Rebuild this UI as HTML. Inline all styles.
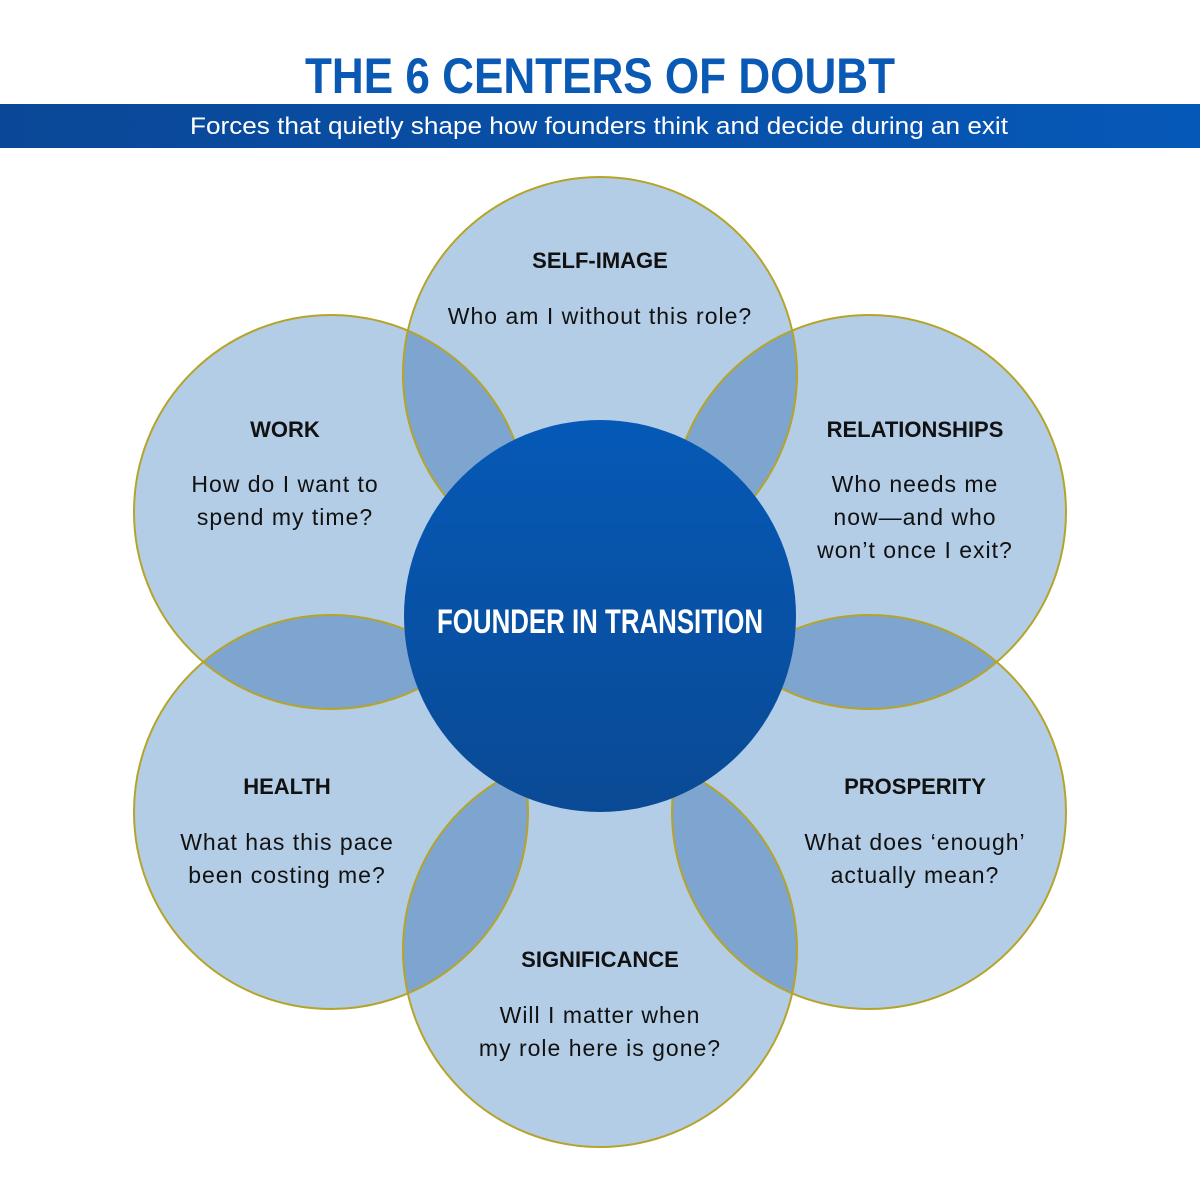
<!DOCTYPE html>
<html><head><meta charset="utf-8"><style>
html,body{margin:0;padding:0;background:#fff;width:1200px;height:1200px;overflow:hidden}
</style></head><body>
<svg width="1200" height="1200" xmlns="http://www.w3.org/2000/svg" style="display:block">
<defs>
<linearGradient id="band" x1="0" x2="1" y1="0" y2="0"><stop offset="0" stop-color="#0a4797"/><stop offset="1" stop-color="#0658b8"/></linearGradient>
<linearGradient id="core" x1="0" x2="0" y1="0" y2="1"><stop offset="0" stop-color="#0559b6"/><stop offset="1" stop-color="#0a4a95"/></linearGradient>
</defs>
<text x="305" y="93" font-family="Liberation Sans, sans-serif" font-weight="bold" font-size="50" fill="#0a5ab5" textLength="590" lengthAdjust="spacingAndGlyphs">THE 6 CENTERS OF DOUBT</text>
<rect x="0" y="104" width="1200" height="44" fill="url(#band)"/>
<text x="190" y="134" font-family="Liberation Sans, sans-serif" font-size="24" fill="#fff" textLength="818" lengthAdjust="spacingAndGlyphs">Forces that quietly shape how founders think and decide during an exit</text>
<g style="isolation:isolate">
<g fill="#b3cde6">
<circle cx="600" cy="374" r="197" style="mix-blend-mode:multiply"/>
<circle cx="331" cy="512" r="197" style="mix-blend-mode:multiply"/>
<circle cx="869" cy="512" r="197" style="mix-blend-mode:multiply"/>
<circle cx="331" cy="812" r="197" style="mix-blend-mode:multiply"/>
<circle cx="869" cy="812" r="197" style="mix-blend-mode:multiply"/>
<circle cx="600" cy="950" r="197" style="mix-blend-mode:multiply"/>
</g>
</g>
<g fill="none" stroke="#b5a429" stroke-width="2">
<circle cx="600" cy="374" r="197"/><circle cx="331" cy="512" r="197"/><circle cx="869" cy="512" r="197"/>
<circle cx="331" cy="812" r="197"/><circle cx="869" cy="812" r="197"/><circle cx="600" cy="950" r="197"/>
</g>
<circle cx="600" cy="616" r="196" fill="url(#core)"/>
<text x="600" y="633" text-anchor="middle" font-family="Liberation Sans, sans-serif" font-weight="bold" font-size="34" fill="#fff" textLength="326" lengthAdjust="spacingAndGlyphs">FOUNDER IN TRANSITION</text>
<g font-family="Liberation Sans, sans-serif" text-anchor="middle" fill="#111">
<g font-weight="bold" font-size="22">
<text x="600" y="268">SELF-IMAGE</text>
<text x="285" y="437">WORK</text>
<text x="915" y="437">RELATIONSHIPS</text>
<text x="287" y="794">HEALTH</text>
<text x="915" y="794">PROSPERITY</text>
<text x="600" y="967">SIGNIFICANCE</text>
</g>
<g font-size="23" letter-spacing="1">
<text x="600" y="324">Who am I without this role?</text>
<text x="285" y="492">How do I want to</text><text x="285" y="525">spend my time?</text>
<text x="915" y="492">Who needs me</text><text x="915" y="525">now—and who</text><text x="915" y="558">won’t once I exit?</text>
<text x="287" y="850">What has this pace</text><text x="287" y="883">been costing me?</text>
<text x="915" y="850">What does ‘enough’</text><text x="915" y="883">actually mean?</text>
<text x="600" y="1023">Will I matter when</text><text x="600" y="1056">my role here is gone?</text>
</g>
</g>
</svg>
</body></html>
